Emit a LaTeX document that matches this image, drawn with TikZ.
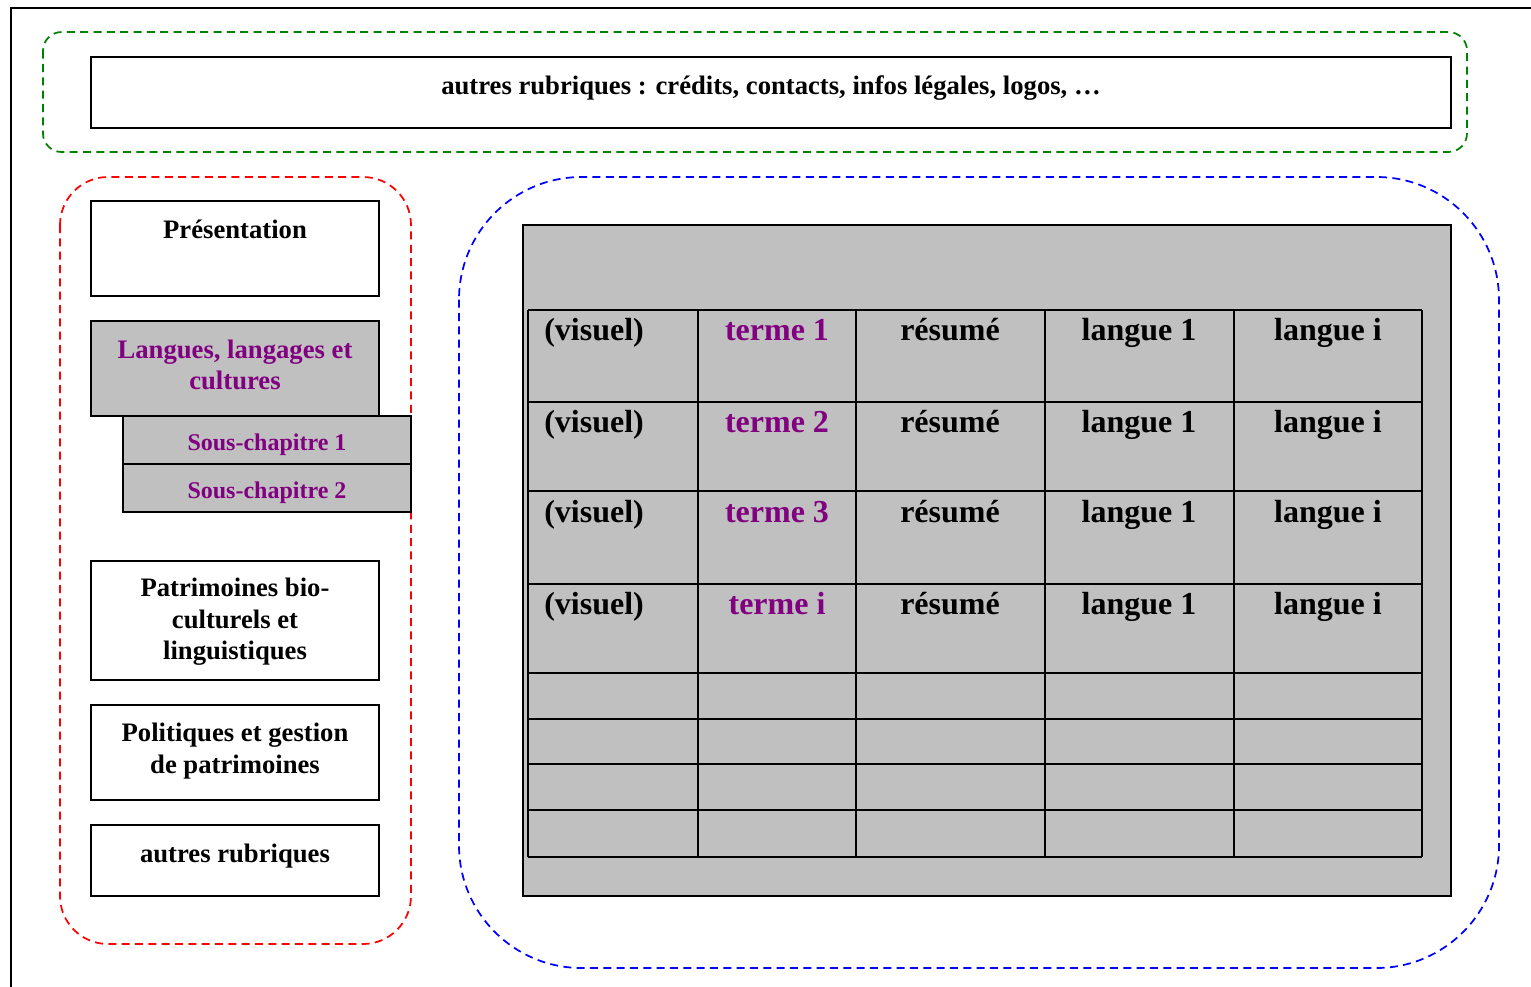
\documentclass[tikz,border=0pt]{standalone}
\usepackage{fontspec}
\setmainfont{Liberation Serif}
\usetikzlibrary{fit}
\definecolor{gfill}{HTML}{C0C0C0}
\definecolor{purp}{HTML}{800080}
\definecolor{dgreen}{HTML}{008000}
\definecolor{dred}{HTML}{FF0000}
\definecolor{dblue}{HTML}{0000FF}
\tikzset{
  box/.style={draw=black, line width=1.5pt, inner sep=0pt},
  graybox/.style={box, fill=gfill},
  mlbl/.style={font=\fontsize{20}{23.5}\selectfont\bfseries, align=center, inner sep=0pt, text=black},
  pmlbl/.style={mlbl, text=purp},
  lbl/.style={mlbl, text height=17pt, text depth=4pt},
  slbl/.style={font=\fontsize{18}{21}\selectfont\bfseries, inner sep=0pt, text=purp, text height=15pt, text depth=3.6pt},
  tlbl/.style={font=\fontsize{24}{28}\selectfont\bfseries, inner sep=0pt, text=black, text height=20pt, text depth=5pt},
  ptlbl/.style={tlbl, text=purp},
  zone/.style={line width=1.3pt, dash pattern=on 6pt off 4pt},
  grid line/.style={line width=1.6pt, black}
}
\begin{document}
\begin{tikzpicture}[x=0.75pt,y=-0.75pt]
\clip (0,0) rectangle (1531,986);
\fill[white] (0,0) rectangle (1531,986);
% outer frame
\draw[line width=1.5pt] (11,8) rectangle (1560,1010);

% top zone
\draw[zone, dgreen, rounded corners=14pt] (43,32) rectangle (1467,152);
\node[box, fit={(91,57) (1451,128)}] (hdr) {};
\node[lbl] (hdrt) at (771,86) {autres rubriques : crédits, contacts, infos légales, logos, …};

% left zone
\draw[zone, dred, rounded corners=36pt] (60,177) rectangle (411,944);
\node[box, fit={(91,201) (379,296)}] (pres) {};
\node[lbl] (prest) at (235,230) {Présentation};
\node[graybox, fit={(91,321) (379,416)}] (lang) {};
\node[pmlbl] (langt) at (235,365) {Langues, langages et\\cultures};
\node[graybox, fit={(123,416) (411,464)}] (sc1) {};
\node[slbl] (sc1t) at (267,443) {Sous-chapitre 1};
\node[graybox, fit={(123,464) (411,512)}] (sc2) {};
\node[slbl] (sc2t) at (267,491) {Sous-chapitre 2};
\node[box, fit={(91,561) (379,680)}] (pat) {};
\node[mlbl] (patt) at (235,622) {Patrimoines bio-\\culturels et\\linguistiques};
\node[box, fit={(91,705) (379,800)}] (pol) {};
\node[mlbl] (polt) at (235,751) {Politiques et gestion\\de patrimoines};
\node[box, fit={(91,825) (379,896)}] (aut) {};
\node[lbl] (autt) at (235,854) {autres rubriques};

% right zone
\draw[zone, dblue, rounded corners=92pt] (459,177) rectangle (1499,968);
\node[graybox, fit={(523,225) (1451,896)}] (panel) {};

% table grid
\foreach \x in {528,698,856,1045,1234,1422}
  \draw[grid line] (\x,310) -- (\x,857);
\foreach \y in {310,402,491,584,673,719,764,810,857}
  \draw[grid line] (528,\y) -- (1422,\y);

% table texts
\foreach \y/\t [count=\i] in {330/1,422/2,512/3,604/i}{
  \node[tlbl, anchor=west] (vis\i) at (544,\y) {(visuel)};
  \node[ptlbl] (term\i) at (777,\y) {terme \t};
  \node[tlbl] (res\i) at (950,\y) {résumé};
  \node[tlbl] (la\i) at (1139,\y) {langue 1};
  \node[tlbl] (li\i) at (1328,\y) {langue i};
}
\end{tikzpicture}
\end{document}
